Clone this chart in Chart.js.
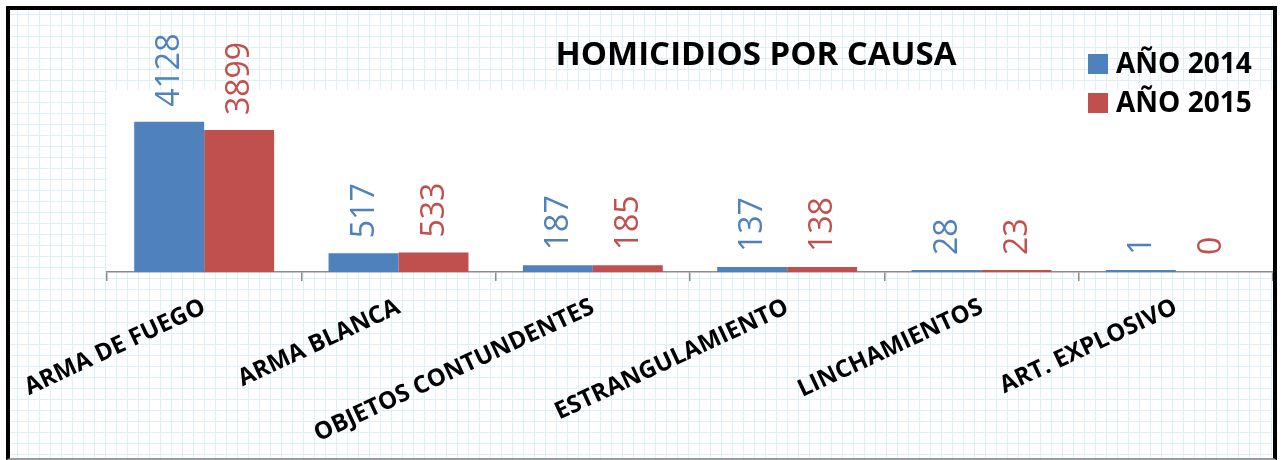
<!DOCTYPE html>
<html>
<head>
<meta charset="utf-8">
<script src="https://cdn.jsdelivr.net/npm/chart.js@4/dist/chart.umd.min.js"></script>
<style>
  html, body { margin:0; padding:0; background:#fff; }
  body { width:1282px; height:460px; position:relative; overflow:hidden; }
  #frame {
    position:absolute; left:6px; top:6px; width:1271px; height:454px;
    box-sizing:border-box;
    border-left:4px solid #000; border-top:4px solid #000; border-right:4px solid #000;
    border-bottom:2px solid #9a9a9a;
    background-color:#fff;
    background-image:
      repeating-linear-gradient(to right, #dfeff7 0 1px, transparent 1px 11px),
      repeating-linear-gradient(to bottom, #dfeff7 0 1px, transparent 1px 11px);
    background-position:7px 4px;
  }
  #wrap { position:absolute; left:0; top:0; width:1263px; height:448px; }
</style>
</head>
<body>
<div id="frame"><div id="wrap"><canvas id="chart"></canvas></div></div>
<script>
const categories = ["ARMA DE FUEGO","ARMA BLANCA","OBJETOS CONTUNDENTES","ESTRANGULAMIENTO","LINCHAMIENTOS","ART. EXPLOSIVO"];
const seriesNames = ["AÑO 2014","AÑO 2015"];
const values2014 = [4128, 517, 187, 137, 28, 1];
const values2015 = [3899, 533, 185, 138, 23, 0];
const colors = ["#4f81bd", "#c0504d"];
const chartTitle = "HOMICIDIOS POR CAUSA";

// white plot area over the grid paper background
const plotBg = {
  id:"plotBg",
  beforeDraw(chart){
    const {ctx, chartArea:a} = chart;
    ctx.save();
    ctx.fillStyle = "#fff";
    ctx.fillRect(a.left, a.top, a.right - a.left, a.bottom - a.top);
    ctx.restore();
  }
};

// rotated value labels, title and legend
const extras = {
  id:"extras",
  afterDraw(chart){
    const ctx = chart.ctx;
    const base = chart.scales.y.getPixelForValue(0);
    ctx.save();
    chart.data.datasets.forEach((ds, i) => {
      const meta = chart.getDatasetMeta(i);
      meta.data.forEach((bar, j) => {
        const top = Math.min(bar.y, base);
        ctx.save();
        ctx.translate(bar.x, top - 15);
        ctx.rotate(-Math.PI/2);
        ctx.font = "32px 'Open Sans'";
        ctx.fillStyle = colors[i];
        ctx.textAlign = "left";
        ctx.textBaseline = "middle";
        ctx.fillText(String(ds.data[j]), 0, 1);
        ctx.restore();
      });
    });
    ctx.fillStyle = "#000";
    ctx.font = "bold 33px 'Open Sans'";
    ctx.textAlign = "center";
    ctx.textBaseline = "middle";
    ctx.fillText(chartTitle, 746, 46);
    ctx.font = "bold 28px 'Open Sans'";
    ctx.textAlign = "left";
    seriesNames.forEach((name, i) => {
      const y = 54 + i*39;
      ctx.fillStyle = colors[i];
      ctx.fillRect(1078, y - 10, 20, 20);
      ctx.fillStyle = "#000";
      ctx.fillText(name, 1106, y + 1);
    });
    ctx.restore();
  }
};

const hideZero = c => (c.raw === 0 ? "rgba(0,0,0,0)" : colors[c.datasetIndex]);

new Chart(document.getElementById("chart"), {
  type:"bar",
  data:{
    labels:categories,
    datasets:[
      {label:seriesNames[0], data:values2014, backgroundColor:hideZero, borderWidth:0, minBarLength:2},
      {label:seriesNames[1], data:values2015, backgroundColor:hideZero, borderWidth:0, minBarLength:2}
    ]
  },
  options:{
    responsive:true, maintainAspectRatio:false, animation:false,
    categoryPercentage:0.72, barPercentage:1,
    layout:{padding:{left:97, right:0, top:80, bottom:0}},
    plugins:{legend:{display:false}, title:{display:false}, tooltip:{enabled:false}},
    scales:{
      x:{
        offset:true,
        grid:{display:true, drawOnChartArea:false, drawTicks:true, tickLength:9, color:"#8c8c8c", lineWidth:1.5, offset:true},
        border:{display:true, color:"#8c8c8c", width:1.5},
        ticks:{color:"#000", font:{family:"'Open Sans'", size:24, weight:"bold"}, minRotation:25, maxRotation:25, autoSkip:false, padding:12},
        afterFit(scale){ scale.height = 186; scale.paddingLeft = 0; scale.paddingRight = 0; }
      },
      y:{display:false, min:0, max:5000}
    }
  },
  plugins:[plotBg, extras]
});
</script>
</body>
</html>
